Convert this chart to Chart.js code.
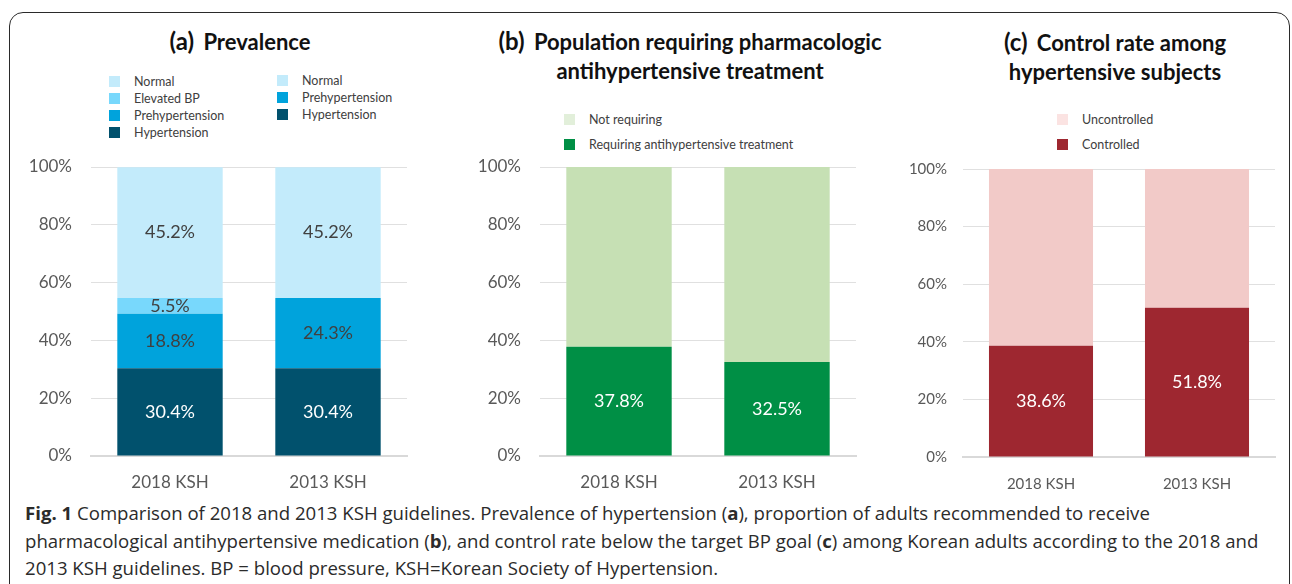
<!DOCTYPE html>
<html>
<head>
<meta charset="utf-8">
<script src="https://cdn.jsdelivr.net/npm/chart.js@4"></script>
<style>
  html, body { margin: 0; padding: 0; background: #fff; }
  body { width: 1292px; height: 584px; position: relative; overflow: hidden; font-family: Lato, sans-serif; }
  .frame { position: absolute; left: 9px; top: 12px; width: 1279px; height: 640px; border: 1.5px solid #2a2a2a; border-radius: 14px; }
  canvas { position: absolute; }
  .title { position: absolute; font-family: Lato, sans-serif; font-weight: 700; color: #111; text-align: center; font-size: 22px; line-height: 29px; white-space: nowrap; }
  .title .tag { font-size: 24px; margin-right: 4px; }
  .legend { position: absolute; font-family: Lato, sans-serif; font-size: 12.5px; color: #404040; }
  .legend .col { position: absolute; top: 0; }
  .legend .item { position: absolute; left: 0; white-space: nowrap; display: flex; align-items: center; }
  .legend .box { width: 11px; height: 11px; margin-right: 14px; }
  .caption { position: absolute; left: 25px; top: 499px; font-family: "Open Sans", sans-serif; font-size: 18.6px; line-height: 27.5px; color: #2b2b2b; white-space: nowrap; }
  .caption b { font-weight: 700; }
</style>
</head>
<body>
<div class="frame"></div>

<div class="title" style="left:90px; top:26px; width:300px;"><span class="tag">(a)</span> Prevalence</div>
<div class="title" style="left:460px; top:26px; width:460px;"><span class="tag">(b)</span> Population requiring pharmacologic<br>antihypertensive treatment</div>
<div class="title" style="left:955px; top:27px; width:320px;"><span class="tag">(c)</span> Control rate among<br>hypertensive subjects</div>

<div class="legend" id="legend-a"></div>
<div class="legend" id="legend-b"></div>
<div class="legend" id="legend-c"></div>

<canvas id="chart-a" width="400" height="340" style="left:20px; top:150px;"></canvas>
<canvas id="chart-b" width="400" height="340" style="left:460px; top:150px;"></canvas>
<canvas id="chart-c" width="410" height="340" style="left:880px; top:150px;"></canvas>

<div class="caption">
  <b>Fig. 1</b> Comparison of 2018 and 2013 KSH guidelines. Prevalence of hypertension (<b>a</b>), proportion of adults recommended to receive<br>
  pharmacological antihypertensive medication (<b>b</b>), and control rate below the target BP goal (<b>c</b>) among Korean adults according to the 2018 and<br>
  2013 KSH guidelines. BP = blood pressure, KSH=Korean Society of Hypertension.
</div>

<script>
// ---- data ----
const categories = ['2018 KSH', '2013 KSH'];
const yTicks = [0, 20, 40, 60, 80, 100];

// (a) prevalence, legend order (top of bar first)
const prev2018Labels = ['Normal', 'Elevated BP', 'Prehypertension', 'Hypertension'];
const prev2018Values = [45.2, 5.5, 18.8, 30.4];
const prev2013Labels = ['Normal', 'Prehypertension', 'Hypertension'];
const prev2013Values = [45.2, 24.3, 30.4];

// (b) pharmacologic treatment
const treatLabels = ['Not requiring', 'Requiring antihypertensive treatment'];
const treatNotRequiring = [62.2, 67.5];
const treatRequiring = [37.8, 32.5];

// (c) control rate
const controlLabels = ['Uncontrolled', 'Controlled'];
const controlUncontrolled = [61.4, 48.2];
const controlControlled = [38.6, 51.8];

// ---- colours ----
const prevColors = {
  'Normal': '#c3ebfb',
  'Elevated BP': '#78d8fc',
  'Prehypertension': '#00a3dc',
  'Hypertension': '#01516d'
};
const darkText = '#404040';
const lightText = '#ffffff';

const barLabels = {
  id: 'barLabels',
  afterDatasetsDraw(chart) {
    const ctx = chart.ctx;
    ctx.save();
    ctx.font = '18px Lato';
    ctx.textAlign = 'center';
    ctx.textBaseline = 'middle';
    chart.data.datasets.forEach((ds, i) => {
      const meta = chart.getDatasetMeta(i);
      meta.data.forEach((bar, j) => {
        const v = ds.data[j];
        if (v == null || !ds.showLabel) return;
        ctx.fillStyle = ds.labelColor;
        ctx.fillText(v.toFixed(1) + '%', bar.x, (bar.y + bar.base) / 2);
      });
    });
    ctx.restore();
  }
};

function makeChart(id, datasets, o) {
  const ctx = document.getElementById(id).getContext('2d');
  return new Chart(ctx, {
    type: 'bar',
    data: { labels: categories, datasets: datasets },
    plugins: [barLabels],
    options: {
      responsive: false,
      animation: false,
      layout: { padding: { top: o.padTop, right: o.padRight, bottom: 0, left: 0 } },
      datasets: { bar: { categoryPercentage: 1, barPercentage: 0.667 } },
      scales: {
        x: {
          stacked: true,
          grid: { display: false, drawTicks: false },
          border: { display: true, color: '#d9d9d9', width: 2 },
          ticks: { color: '#595959', font: { family: 'Lato', size: o.xFont }, padding: o.xPad },
          afterFit: (scale) => { scale.height = o.xHeight; }
        },
        y: {
          stacked: true,
          min: 0,
          max: 100,
          // invisible tick marks give the gap between labels and plot
          // (ticks.padding would also push the plot area down)
          grid: { color: '#e0e0e0', lineWidth: 1, drawTicks: true, tickLength: o.yGap, tickColor: 'rgba(0,0,0,0)' },
          border: { display: false },
          afterBuildTicks: (scale) => { scale.ticks = yTicks.map(v => ({ value: v })); },
          ticks: {
            color: '#595959',
            font: { family: 'Lato', size: o.yFont },
            padding: 0,
            callback: (v) => v + '%'
          },
          afterFit: (scale) => { scale.width = o.yWidth; }
        }
      },
      plugins: { legend: { display: false }, tooltip: { enabled: false } }
    }
  });
}

// (a): 2018 segments only in first bar, 2013 segments only in second bar; stacked bottom-up
const prevDatasets = [];
prev2018Labels.slice().reverse().forEach((name, k) => {
  const v = prev2018Values[prev2018Labels.length - 1 - k];
  prevDatasets.push({
    label: name, group: 0, data: [v, null],
    backgroundColor: prevColors[name],
    showLabel: true,
    labelColor: name === 'Hypertension' ? lightText : darkText
  });
});
prev2013Labels.slice().reverse().forEach((name, k) => {
  const v = prev2013Values[prev2013Labels.length - 1 - k];
  prevDatasets.push({
    label: name, group: 1, data: [null, v],
    backgroundColor: prevColors[name],
    showLabel: true,
    labelColor: name === 'Hypertension' ? lightText : darkText
  });
});

const chartA = makeChart('chart-a', prevDatasets, {
  padTop: 17, padRight: 13, yWidth: 71, yGap: 19, yFont: 17, xFont: 17, xPad: 16, xHeight: 34
});

const chartB = makeChart('chart-b', [
  { label: treatLabels[1], data: treatRequiring, backgroundColor: '#008f45', showLabel: true, labelColor: lightText, legendColor: '#008f45' },
  { label: treatLabels[0], data: treatNotRequiring, backgroundColor: '#c6e0b4', showLabel: false, legendColor: '#e2efda' }
], { padTop: 17, padRight: 4, yWidth: 80, yGap: 19, yFont: 17, xFont: 17, xPad: 16, xHeight: 34 });

const chartC = makeChart('chart-c', [
  { label: controlLabels[1], data: controlControlled, backgroundColor: '#9e2730', showLabel: true, labelColor: lightText, legendColor: '#9e2730' },
  { label: controlLabels[0], data: controlUncontrolled, backgroundColor: '#f2cac8', showLabel: false, legendColor: '#fbe3e2' }
], { padTop: 19, padRight: 15, yWidth: 83, yGap: 16, yFont: 15, xFont: 15, xPad: 18, xHeight: 33 });

// ---- html legends built from the chart datasets ----
function legendItem(ds, top) {
  const item = document.createElement('div');
  item.className = 'item';
  item.style.top = top + 'px';
  const box = document.createElement('span');
  box.className = 'box';
  box.style.background = ds.legendColor || ds.backgroundColor;
  const txt = document.createElement('span');
  txt.textContent = ds.label;
  item.appendChild(box);
  item.appendChild(txt);
  return item;
}

function buildLegend(el, left, top, columns, rowGap) {
  el.style.left = left + 'px';
  el.style.top = top + 'px';
  columns.forEach((col) => {
    const c = document.createElement('div');
    c.className = 'col';
    c.style.left = col.x + 'px';
    c.style.top = (col.y || 0) + 'px';
    col.items.forEach((ds, i) => c.appendChild(legendItem(ds, i * rowGap)));
    el.appendChild(c);
  });
}

const dsA = chartA.data.datasets;
buildLegend(document.getElementById('legend-a'), 109, 74, [
  { x: 0, y: 0, items: dsA.filter(d => d.group === 0).reverse() },
  { x: 168, y: -1, items: dsA.filter(d => d.group === 1).reverse() }
], 17);
buildLegend(document.getElementById('legend-b'), 564, 112, [
  { x: 0, items: chartB.data.datasets.slice().reverse() }
], 25);
buildLegend(document.getElementById('legend-c'), 1057, 112, [
  { x: 0, items: chartC.data.datasets.slice().reverse() }
], 25);
</script>
</body>
</html>
